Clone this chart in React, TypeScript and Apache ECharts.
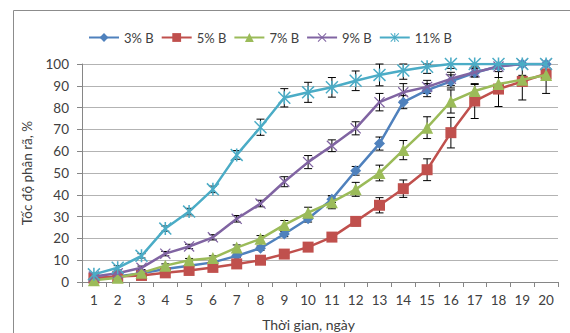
import React, { useEffect, useRef } from "react";
import * as echarts from "echarts";

const days = ["1","2","3","4","5","6","7","8","9","10","11","12","13","14","15","16","17","18","19","20"];
const seriesNames = ["3% B", "5% B", "7% B", "9% B", "11% B"];

const b3 = [1.5, 2.5, 4, 6, 7.5, 9, 12, 15.5, 22, 29, 38, 51, 63.5, 82.5, 88, 92, 96, 99, 100, 100];
const b5 = [1.8, 2.5, 3, 4.2, 5.3, 6.7, 8.3, 10, 12.8, 16, 20.6, 27.8, 35.2, 42.8, 51.5, 68.5, 83, 88.5, 92, 95.5];
const b7 = [0.8, 2, 4.2, 7.5, 10, 11, 15.8, 19.8, 26.2, 31.8, 36.6, 42.5, 50, 60.5, 70.8, 82.8, 87.6, 90.8, 92.8, 95];
const b9 = [2.5, 4, 6.5, 13, 16.3, 20.5, 29, 36, 46, 55, 62.5, 70.5, 82.5, 87, 89.5, 93.2, 96.2, 98.8, 100, 100];
const b11 = [3.5, 6.5, 12, 24.5, 32.3, 42.5, 58.3, 71, 84.5, 87, 89.3, 92.3, 95, 97, 98.7, 100, 100, 100, 100, 100];

const e3 = [0.5, 0.5, 0.5, 0.5, 0.5, 0.5, 0.8, 1, 1.2, 1.5, 1.5, 2, 3, 3, 3, 3, 2, 1, 0.5, 0.5];
const e5 = [0.5, 0.5, 0.5, 0.5, 0.5, 0.8, 0.8, 1, 1.2, 1.5, 1.5, 2, 3.5, 4, 5, 7, 8, 8, 8.5, 9];
const e7 = [0.5, 0.5, 0.5, 0.8, 0.8, 1, 1.2, 1.5, 2, 2.5, 3, 3.2, 3.6, 4.4, 5, 5.3, 3, 3, 2, 2];
const e9 = [0.5, 0.5, 0.8, 1, 1, 1.2, 1.5, 1.5, 2.3, 3, 2.7, 3, 4, 4, 3, 3, 2, 1, 0.5, 0.5];
const e11 = [0.5, 1, 1, 1.2, 1.5, 1.5, 2, 3.7, 4.2, 4.6, 4.5, 4.5, 5, 4, 3, 2, 1, 1, 0.5, 0.5];

const yTicks = { min: 0, max: 100, interval: 10 };

const values = [b3, b5, b7, b9, b11];
const errors = [e3, e5, e7, e9, e11];
const colors = ["#4F81BD", "#C0504D", "#9BBB59", "#8064A2", "#4BACC6"];
const xPath = "path://M0,0.8 L0.8,0 L5,4.2 L9.2,0 L10,0.8 L5.8,5 L10,9.2 L9.2,10 L5,5.8 L0.8,10 L0,9.2 L4.2,5 Z";
const starPath = "path://M0,0.8 L0.8,0 L5,4.2 L9.2,0 L10,0.8 L5.8,5 L10,9.2 L9.2,10 L5,5.8 L0.8,10 L0,9.2 L4.2,5 Z M4.4,0 L5.6,0 L5.6,10 L4.4,10 Z";
const symbols = ["diamond", "rect", "triangle", xPath, starPath];
const symbolSizes = [11, 11, 12, 11, 13];

const FONT = "Lato, 'Open Sans', sans-serif";
const TEXT = "#404040";

export default function App() {
  const ref = useRef<HTMLDivElement>(null);
  useEffect(() => {
    if (!ref.current) return;
    const chart = echarts.init(ref.current, undefined, { renderer: "svg" });

    const lineSeries = seriesNames.map((name, k) => ({
      name,
      type: "line",
      data: values[k],
      symbol: symbols[k],
      symbolSize: symbolSizes[k],
      showAllSymbol: true,
      lineStyle: { color: colors[k], width: 2.5 },
      itemStyle: { color: colors[k] },
      z: 3 + k,
    }));

    const errSeries = seriesNames.map((name, k) => ({
      type: "custom",
      name: name + " err",
      data: values[k].map((v, i) => [i, v, errors[k][i]]),
      encode: { x: 0, y: 1 },
      z: 2,
      silent: true,
      renderItem: (params: any, api: any) => {
        const x = api.value(0);
        const y = api.value(1);
        const e = api.value(2);
        const top = api.coord([x, Math.min(y + e, 100)]);
        const bot = api.coord([x, y - e]);
        const hw = 4;
        const st = { stroke: "#000", lineWidth: 1 };
        return {
          type: "group",
          children: [
            { type: "line", shape: { x1: top[0], y1: top[1], x2: bot[0], y2: bot[1] }, style: st },
            { type: "line", shape: { x1: top[0] - hw, y1: top[1], x2: top[0] + hw, y2: top[1] }, style: st },
            { type: "line", shape: { x1: bot[0] - hw, y1: bot[1], x2: bot[0] + hw, y2: bot[1] }, style: st },
          ],
        };
      },
    }));

    chart.setOption({
      animation: false,
      textStyle: { fontFamily: FONT },
      graphic: [
        {
          type: "rect",
          shape: { x: 13.5, y: 10.5, width: 700, height: 500 },
          style: { fill: "none", stroke: "#8c8c8c", lineWidth: 1 },
          silent: true,
        },
      ],
      legend: {
        data: seriesNames,
        left: 83,
        top: 26,
        itemWidth: 30,
        itemHeight: 11,
        itemGap: 7,
        textStyle: { fontFamily: FONT, fontSize: 13, color: TEXT },
      },
      grid: { left: 82, right: 12, top: 64, bottom: 51, containLabel: false, outerBoundsMode: "none" },
      xAxis: {
        type: "category",
        data: days,
        boundaryGap: true,
        name: "Thời gian, ngày",
        nameLocation: "middle",
        nameGap: 35,
        nameTextStyle: { fontFamily: FONT, fontSize: 14, color: TEXT, padding: [0, 23, 0, 0] },
        axisLine: { lineStyle: { color: "#868686" } },
        axisTick: { show: true, alignWithLabel: false, length: 5, lineStyle: { color: "#868686" } },
        axisLabel: { fontFamily: FONT, fontSize: 13.5, color: TEXT, margin: 11, interval: 0 },
        splitLine: { show: false },
      },
      yAxis: {
        type: "value",
        min: yTicks.min,
        max: yTicks.max,
        interval: yTicks.interval,
        name: "Tốc độ phân rã, %",
        nameLocation: "middle",
        nameGap: 48,
        nameTextStyle: { fontFamily: FONT, fontSize: 13.5, color: TEXT },
        axisLine: { show: true, lineStyle: { color: "#868686" } },
        axisTick: { show: true, length: 5, lineStyle: { color: "#868686" } },
        axisLabel: { fontFamily: FONT, fontSize: 13.5, color: TEXT, margin: 13 },
        splitLine: { show: true, lineStyle: { color: "#b3b3b3", width: 1 } },
      },
      series: [...errSeries, ...lineSeries],
    });
    return () => chart.dispose();
  }, []);
  return (
    <div
      ref={ref}
      style={{ position: "fixed", left: 0, top: 0, width: 570, height: 333, background: "#fff" }}
    />
  );
}
